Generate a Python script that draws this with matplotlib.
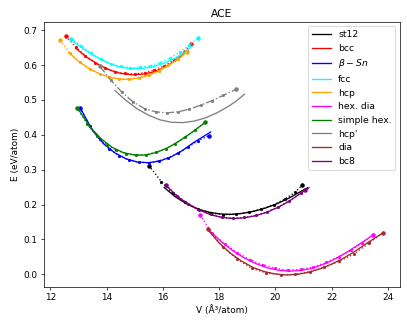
import matplotlib
matplotlib.use('Agg')
import matplotlib.pyplot as plt

# E(V) curves: solid = ACE, dotted with dots = DFT reference
st12_v_dft = [15.5, 15.95, 16.35, 16.8, 17.25, 17.7, 18.15, 18.6, 19.05, 19.5, 19.95, 20.35, 20.7, 20.95]
st12_e_dft = [0.312, 0.266, 0.233, 0.206, 0.187, 0.176, 0.171, 0.172, 0.178, 0.187, 0.200, 0.216, 0.235, 0.255]
st12_v_ace = [16.05, 16.45, 16.85, 17.25, 17.65, 18.05, 18.45, 18.85, 19.25, 19.65, 20.05, 20.45, 20.85, 21.15]
st12_e_ace = [0.249, 0.222, 0.202, 0.187, 0.178, 0.173, 0.172, 0.175, 0.181, 0.190, 0.202, 0.217, 0.235, 0.248]

bcc_v_dft = [12.56, 12.9, 13.25, 13.6, 13.95, 14.3, 14.65, 15.0, 15.35, 15.7, 16.05, 16.4, 16.75, 17.0]
bcc_e_dft = [0.683, 0.652, 0.627, 0.607, 0.592, 0.581, 0.576, 0.575, 0.578, 0.586, 0.598, 0.614, 0.638, 0.659]
bcc_v_ace = [12.9, 13.3, 13.7, 14.1, 14.5, 14.9, 15.3, 15.7, 16.1, 16.5, 16.9]
bcc_e_ace = [0.648, 0.622, 0.602, 0.586, 0.576, 0.572, 0.574, 0.581, 0.595, 0.616, 0.643]

bsn_v_dft = [13.05, 13.4, 13.75, 14.1, 14.45, 14.8, 15.15, 15.5, 15.85, 16.2, 16.55, 16.9, 17.25, 17.65]
bsn_e_dft = [0.478, 0.425, 0.387, 0.359, 0.340, 0.328, 0.321, 0.320, 0.325, 0.334, 0.348, 0.365, 0.383, 0.398]
bsn_v_ace = [13.1, 13.5, 13.9, 14.3, 14.7, 15.1, 15.5, 15.9, 16.3, 16.7, 17.1, 17.7]
bsn_e_ace = [0.472, 0.413, 0.374, 0.348, 0.331, 0.322, 0.320, 0.325, 0.337, 0.355, 0.378, 0.408]

fcc_v_dft = [12.75, 13.1, 13.45, 13.8, 14.15, 14.5, 14.85, 15.2, 15.55, 15.9, 16.25, 16.6, 16.95, 17.25]
fcc_e_dft = [0.676, 0.655, 0.634, 0.617, 0.604, 0.596, 0.593, 0.594, 0.598, 0.607, 0.620, 0.637, 0.657, 0.679]
fcc_v_ace = [12.8, 13.2, 13.6, 14.0, 14.4, 14.8, 15.2, 15.6, 16.0, 16.4, 16.8, 17.05]
fcc_e_ace = [0.668, 0.645, 0.625, 0.608, 0.596, 0.590, 0.590, 0.594, 0.604, 0.618, 0.638, 0.655]

hcp_v_dft = [12.35, 12.7, 13.05, 13.4, 13.75, 14.1, 14.45, 14.8, 15.15, 15.5, 15.85, 16.2, 16.55, 16.85]
hcp_e_dft = [0.671, 0.634, 0.608, 0.589, 0.575, 0.565, 0.560, 0.560, 0.564, 0.572, 0.584, 0.600, 0.618, 0.638]
hcp_v_ace = [12.65, 13.0, 13.4, 13.8, 14.2, 14.6, 15.0, 15.4, 15.8, 16.2, 16.6, 16.85]
hcp_e_ace = [0.636, 0.611, 0.589, 0.573, 0.563, 0.559, 0.561, 0.568, 0.581, 0.599, 0.620, 0.637]

hexdia_v_dft = [17.33, 17.75, 18.2, 18.65, 19.1, 19.55, 20.0, 20.45, 20.9, 21.35, 21.8, 22.25, 22.7, 23.1, 23.48]
hexdia_e_dft = [0.170, 0.118, 0.088, 0.062, 0.042, 0.027, 0.017, 0.012, 0.014, 0.021, 0.034, 0.050, 0.069, 0.090, 0.114]
hexdia_v_ace = [17.7, 18.1, 18.5, 18.9, 19.3, 19.7, 20.1, 20.5, 20.9, 21.3, 21.7, 22.1, 22.5, 22.9, 23.25, 23.5]
hexdia_e_ace = [0.122, 0.092, 0.067, 0.047, 0.031, 0.019, 0.012, 0.009, 0.011, 0.017, 0.028, 0.043, 0.061, 0.082, 0.100, 0.115]

sh_v_dft = [12.95, 13.3, 13.65, 14.0, 14.35, 14.7, 15.05, 15.4, 15.75, 16.1, 16.45, 16.8, 17.15, 17.5]
sh_e_dft = [0.478, 0.432, 0.397, 0.372, 0.356, 0.346, 0.342, 0.343, 0.350, 0.360, 0.375, 0.393, 0.413, 0.436]
sh_v_ace = [13.0, 13.4, 13.8, 14.2, 14.6, 15.0, 15.4, 15.8, 16.2, 16.6, 17.0, 17.5]
sh_e_ace = [0.473, 0.424, 0.389, 0.364, 0.349, 0.342, 0.342, 0.350, 0.364, 0.383, 0.405, 0.435]

hcp2_v_dft = [13.75, 14.15, 14.55, 14.95, 15.35, 15.75, 16.15, 16.55, 16.95, 17.35, 17.75, 18.15, 18.6]
hcp2_e_dft = [0.598, 0.557, 0.522, 0.494, 0.475, 0.466, 0.463, 0.466, 0.474, 0.485, 0.498, 0.513, 0.530]
hcp2_v_ace = [14.3, 14.7, 15.1, 15.5, 15.9, 16.3, 16.7, 17.1, 17.5, 17.9, 18.3, 18.6, 18.9]
hcp2_e_ace = [0.527, 0.498, 0.474, 0.456, 0.443, 0.436, 0.435, 0.439, 0.448, 0.462, 0.480, 0.496, 0.516]

dia_v_dft = [17.62, 18.13, 18.65, 19.16, 19.67, 20.19, 20.71, 21.23, 21.74, 22.28, 22.8, 23.32, 23.84]
dia_e_dft = [0.130, 0.079, 0.043, 0.017, 0.004, -0.001, 0.000, 0.008, 0.020, 0.038, 0.058, 0.089, 0.119]
dia_v_ace = [17.6, 18.0, 18.4, 18.8, 19.2, 19.6, 20.0, 20.4, 20.8, 21.2, 21.6, 22.0, 22.4, 22.8, 23.2, 23.5, 23.85]
dia_e_ace = [0.128, 0.090, 0.061, 0.038, 0.020, 0.008, 0.001, -0.002, 0.000, 0.006, 0.016, 0.029, 0.045, 0.064, 0.086, 0.102, 0.120]

bc8_v_dft = [16.1, 16.5, 16.9, 17.3, 17.7, 18.1, 18.5, 18.9, 19.3, 19.7, 20.1, 20.5, 20.9, 21.05]
bc8_e_dft = [0.257, 0.226, 0.203, 0.185, 0.172, 0.164, 0.161, 0.163, 0.169, 0.179, 0.193, 0.211, 0.233, 0.243]
bc8_v_ace = [16.1, 16.5, 16.9, 17.3, 17.7, 18.1, 18.5, 18.9, 19.3, 19.7, 20.1, 20.5, 20.9, 21.2]
bc8_e_ace = [0.256, 0.225, 0.201, 0.184, 0.171, 0.163, 0.160, 0.162, 0.168, 0.178, 0.192, 0.210, 0.232, 0.248]

curves = [
    ('st12', 'black', st12_v_dft, st12_e_dft, st12_v_ace, st12_e_ace),
    ('bcc', 'red', bcc_v_dft, bcc_e_dft, bcc_v_ace, bcc_e_ace),
    (r'$\beta-Sn$', 'blue', bsn_v_dft, bsn_e_dft, bsn_v_ace, bsn_e_ace),
    ('fcc', 'cyan', fcc_v_dft, fcc_e_dft, fcc_v_ace, fcc_e_ace),
    ('hcp', 'orange', hcp_v_dft, hcp_e_dft, hcp_v_ace, hcp_e_ace),
    ('hex. dia', 'magenta', hexdia_v_dft, hexdia_e_dft, hexdia_v_ace, hexdia_e_ace),
    ('simple hex.', 'green', sh_v_dft, sh_e_dft, sh_v_ace, sh_e_ace),
    ("hcp'", 'gray', hcp2_v_dft, hcp2_e_dft, hcp2_v_ace, hcp2_e_ace),
    ('dia', 'brown', dia_v_dft, dia_e_dft, dia_v_ace, dia_e_ace),
    ('bc8', 'purple', bc8_v_dft, bc8_e_dft, bc8_v_ace, bc8_e_ace),
]

fig = plt.figure(figsize=(6.4, 5.126), dpi=63.6)
ax = fig.add_subplot(111)
fig.subplots_adjust(left=0.107, right=0.983, top=0.933, bottom=0.12)

for name, c, vd, ed, va, ea in curves:
    ax.plot(va, ea, '-', color=c, label=name)
    ls = '-.' if name == "hcp'" else ':'
    ax.plot(vd, ed, ls, color=c, marker='o', ms=2.5)
    ax.plot([vd[0], vd[-1]], [ed[0], ed[-1]], 'o', color=c, ms=4)

ax.set_xlim(11.76, 24.44)
ax.set_ylim(-0.036, 0.724)
ax.set_xlabel('V (Å³/atom)')
ax.set_ylabel('E (eV/atom)')
ax.set_title('ACE')
ax.legend(loc='upper right', fontsize=10.5)

fig.savefig('out.png', dpi=63.6)
